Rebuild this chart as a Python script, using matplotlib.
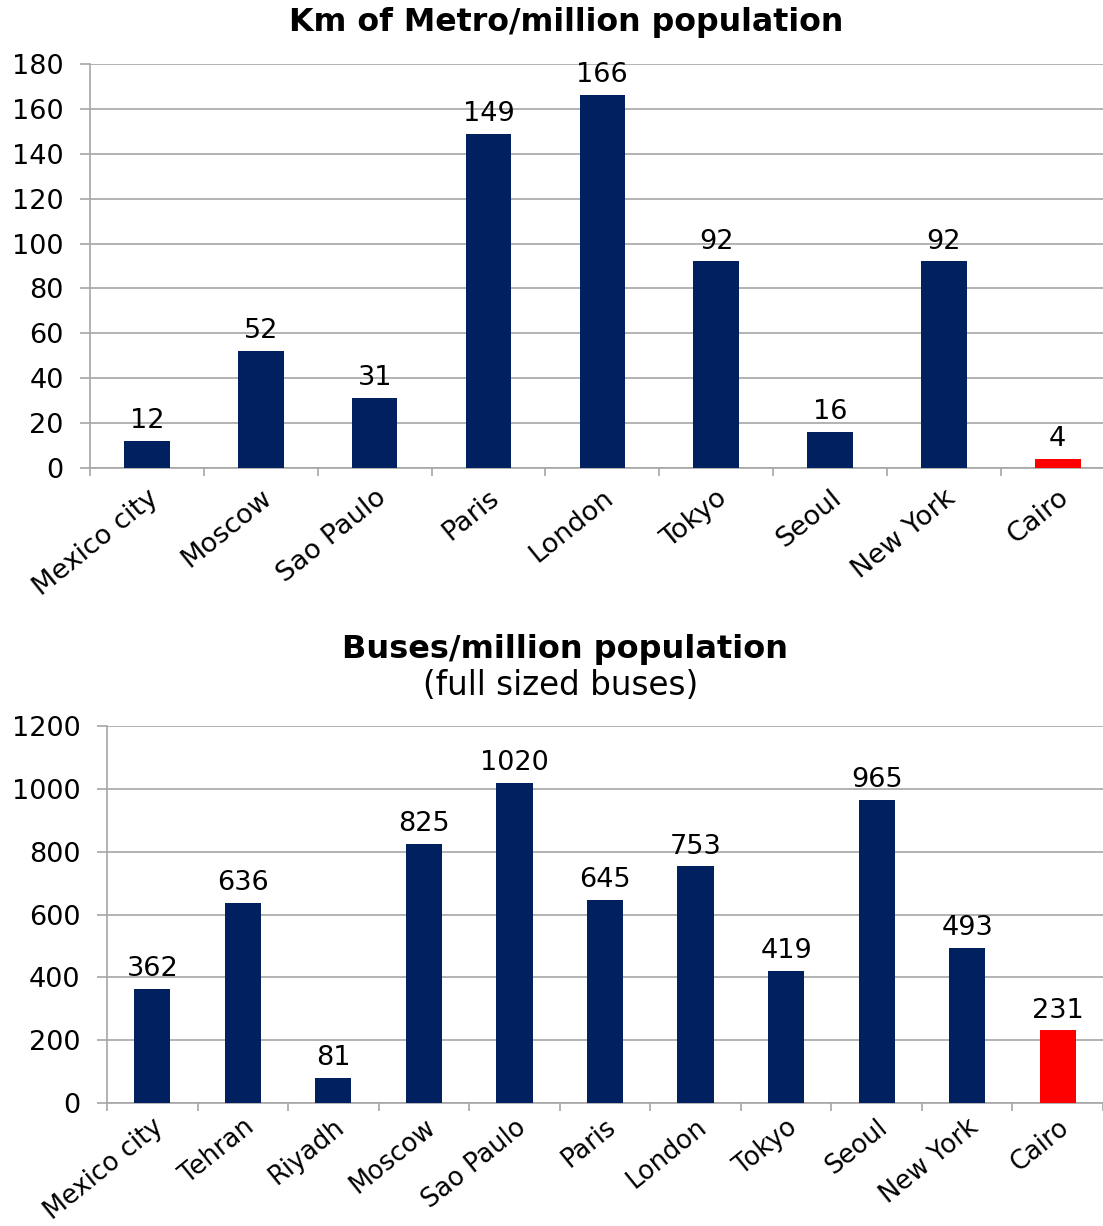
import numpy as np
import matplotlib.pyplot as plt
import matplotlib.transforms as mtransforms

plt.rcParams['font.family'] = ['DejaVu Sans']

metro_cities = ['Mexico city', 'Moscow', 'Sao Paulo', 'Paris', 'London',
                'Tokyo', 'Seoul', 'New York', 'Cairo']
metro_km = [12, 52, 31, 149, 166, 92, 16, 92, 4]

bus_cities = ['Mexico city', 'Tehran', 'Riyadh', 'Moscow', 'Sao Paulo', 'Paris',
              'London', 'Tokyo', 'Seoul', 'New York', 'Cairo']
bus_counts = [362, 636, 81, 825, 1020, 645, 753, 419, 965, 493, 231]

navy = '#002060'
red = '#ff0000'
grid_c = '#a6a6a6'

fig = plt.figure(figsize=(11.03, 12.26), dpi=100)


def draw(ax, cats, vals, ymax, step, dx, lab_size, lab_pad):
    x = np.arange(len(cats))
    colors = [red if c == 'Cairo' else navy for c in cats]
    bars = ax.bar(x, vals, width=0.4, color=colors, zorder=3)
    for b, v in zip(bars, vals):
        ax.annotate(str(v), (b.get_x() + b.get_width() / 2, v),
                    xytext=(0, 5), textcoords='offset points',
                    ha='center', va='bottom', fontsize=19.5)
    ax.set_xlim(-0.5, len(cats) - 0.5)
    ax.set_ylim(0, ymax)
    ax.set_yticks(np.arange(0, ymax + 1, step))
    ax.set_xticks(x)
    ax.set_xticklabels(cats, rotation=39, ha='right', rotation_mode='anchor',
                       fontsize=lab_size)
    shift = mtransforms.ScaledTranslation(dx / 72, 0, fig.dpi_scale_trans)
    for lab in ax.get_xticklabels():
        lab.set_transform(lab.get_transform() + shift)
    ax.set_xticks(np.arange(len(cats) + 1) - 0.5, minor=True)
    ax.tick_params(axis='x', which='major', length=0, pad=lab_pad)
    ax.tick_params(axis='x', which='minor', length=6, color=grid_c, width=1.2)
    ax.tick_params(axis='y', length=7, color=grid_c, width=1.2, pad=12,
                   labelsize=19.5)
    ax.yaxis.grid(True, color=grid_c, linewidth=1.2, zorder=0)
    for s in ['top', 'right']:
        ax.spines[s].set_visible(False)
    for s in ['left', 'bottom']:
        ax.spines[s].set_color(grid_c)
        ax.spines[s].set_linewidth(1.2)


ax1 = fig.add_axes([0.0816, 0.6183, 0.929, 0.3295])
draw(ax1, metro_cities, metro_km, 180, 20, 2, 19.5, 12)

ax2 = fig.add_axes([0.097, 0.1003, 0.903, 0.3075])
draw(ax2, bus_cities, bus_counts, 1200, 200, -4, 18.5, 8)

fig.text(0.513, 0.982, 'Km of Metro/million population', ha='center',
         va='center', fontsize=22.8, fontweight='bold')
fig.text(0.512, 0.470, 'Buses/million population', ha='center',
         va='center', fontsize=23, fontweight='bold')
fig.text(0.508, 0.4405, '(full sized buses)', ha='center',
         va='center', fontsize=23.5)

fig.savefig('out.png', dpi=100)
